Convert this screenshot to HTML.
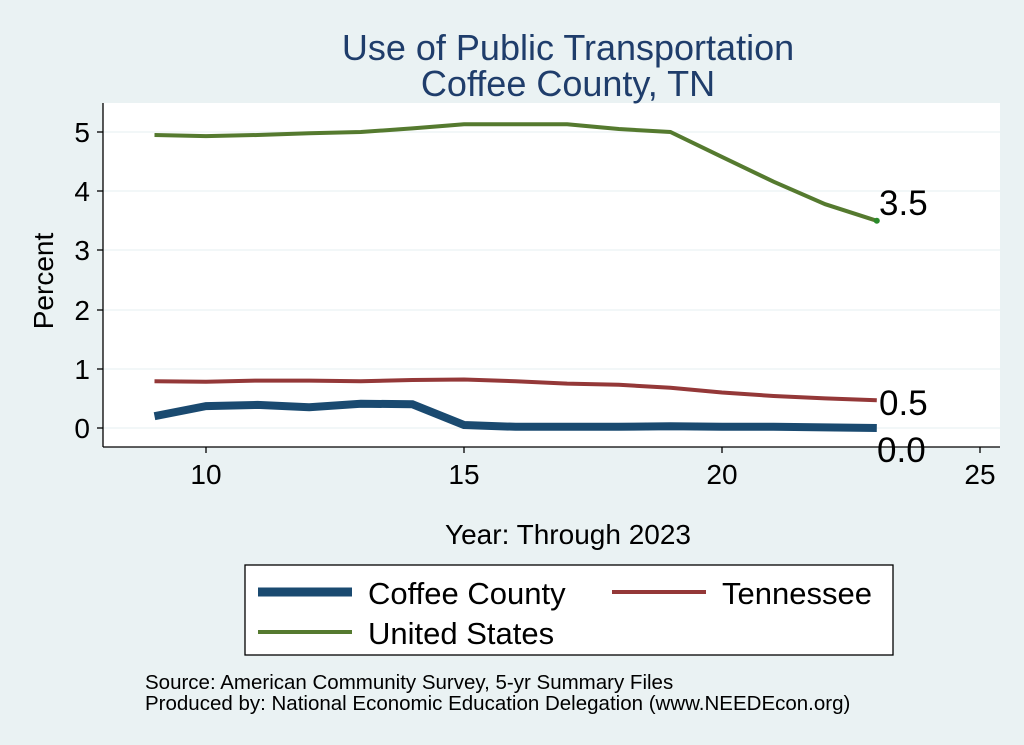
<!DOCTYPE html>
<html><head><style>
body{margin:0;background:#eaf2f3;}
svg{display:block;font-family:"Liberation Sans",Arial,sans-serif;}
</style></head><body>
<svg width="1024" height="745" viewBox="0 0 1024 745">
<rect width="1024" height="745" fill="#eaf2f3"/>
<rect x="103" y="103" width="897" height="344" fill="#fff"/>
<g stroke="#eaf2f3" stroke-width="1.2">
<line x1="103" x2="1000" y1="428" y2="428"/>
<line x1="103" x2="1000" y1="369" y2="369"/>
<line x1="103" x2="1000" y1="310" y2="310"/>
<line x1="103" x2="1000" y1="250" y2="250"/>
<line x1="103" x2="1000" y1="191" y2="191"/>
<line x1="103" x2="1000" y1="132" y2="132"/>
</g>
<g stroke="#000" stroke-width="1.3">
<line x1="103" y1="103" x2="103" y2="447"/>
<line x1="103" y1="447" x2="1000" y2="447"/>
<line x1="97" x2="103" y1="428" y2="428"/><line x1="97" x2="103" y1="369" y2="369"/><line x1="97" x2="103" y1="310" y2="310"/><line x1="97" x2="103" y1="250" y2="250"/><line x1="97" x2="103" y1="191" y2="191"/><line x1="97" x2="103" y1="132" y2="132"/>
<line x1="206" x2="206" y1="447" y2="453"/><line x1="464" x2="464" y1="447" y2="453"/><line x1="722" x2="722" y1="447" y2="453"/><line x1="980" x2="980" y1="447" y2="453"/>
</g>
<g font-size="28" text-anchor="end" fill="#000">
<text x="90" y="438">0</text><text x="90" y="379">1</text><text x="90" y="320">2</text><text x="90" y="260">3</text><text x="90" y="201">4</text><text x="90" y="142">5</text>
</g>
<g font-size="28" text-anchor="middle">
<text x="206" y="484">10</text><text x="464" y="484">15</text><text x="722" y="484">20</text><text x="980" y="484">25</text>
<text x="568" y="544">Year: Through 2023</text>
<text x="53" y="281" transform="rotate(-90 53 281)">Percent</text>
</g>
<g font-size="36" text-anchor="middle" fill="#1f3d6b">
<text x="568" y="60">Use of Public Transportation</text>
<text x="568" y="96">Coffee County, TN</text>
</g>
<polyline fill="none" stroke="#557a2f" stroke-width="4" points="154.5,135 206,136.1 257.6,135 309.2,133.2 360.8,132 412.4,128.4 464,124.3 515.6,124.3 567.2,124.3 618.8,129 670.4,132 722,156.9 773.6,181.7 825.2,204.2 876.8,220.8"/>
<polyline fill="none" stroke="#943838" stroke-width="4" points="154.5,381.2 206,381.8 257.6,380.6 309.2,380.6 360.8,381.2 412.4,380 464,379.5 515.6,381.2 567.2,383.6 618.8,384.8 670.4,387.7 722,392.5 773.6,396 825.2,398.4 876.8,400.2"/>
<polyline fill="none" stroke="#1a4a70" stroke-width="8" points="154.5,416.2 206,406.1 257.6,404.9 309.2,407.3 360.8,403.7 412.4,404.3 464,425 515.6,426.8 567.2,426.8 618.8,426.8 670.4,426.2 722,426.8 773.6,426.8 825.2,427.4 876.8,428"/>
<circle cx="876.8" cy="220.8" r="3" fill="#2a8a2a"/>
<g font-size="35">
<text x="879" y="215">3.5</text><text x="879" y="415">0.5</text><text x="877" y="462">0.0</text>
</g>
<rect x="245" y="565" width="648" height="90" fill="#fff" stroke="#000" stroke-width="1.3"/>
<line x1="258" x2="352" y1="592" y2="592" stroke="#1a4a70" stroke-width="9"/>
<line x1="612" x2="706" y1="592" y2="592" stroke="#943838" stroke-width="4"/>
<line x1="258" x2="352" y1="632" y2="632" stroke="#557a2f" stroke-width="4"/>
<g font-size="31"><text x="368" y="604">Coffee County</text><text x="722" y="604">Tennessee</text><text x="368" y="644">United States</text></g>
<g font-size="20.5"><text x="145" y="689">Source: American Community Survey, 5-yr Summary Files</text><text x="145" y="710">Produced by: National Economic Education Delegation (www.NEEDEcon.org)</text></g>
</svg>
</body></html>
